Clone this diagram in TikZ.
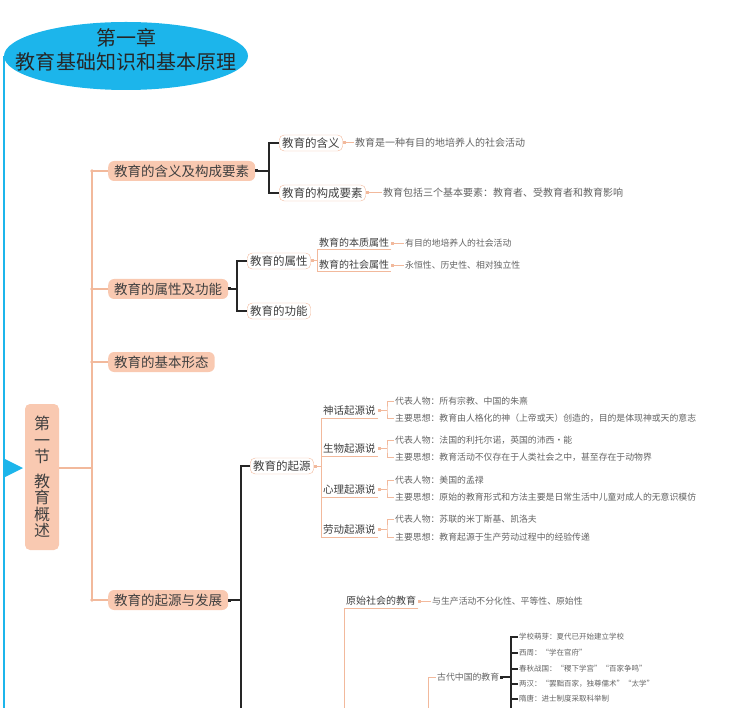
\documentclass[tikz,border=0pt]{standalone}
\usepackage{fontspec}
\setmainfont{Noto Sans CJK SC}
\usepackage{xcolor}
\usepackage{tikz}
\usetikzlibrary{shapes.geometric,arrows.meta}
\definecolor{skyblue}{HTML}{1CB5EB}
\definecolor{peach}{HTML}{F9C9B1}
\definecolor{peachline}{HTML}{F2B99C}
\definecolor{inkgray}{HTML}{404040}
\definecolor{leafgray}{HTML}{636363}

\begin{document}
\begin{tikzpicture}[
  x=1pt, y=-1pt,
  titleell/.style={ellipse, fill=skyblue, minimum width=244pt, minimum height=68pt, inner sep=0pt},
  titletxt/.style={align=center, text=black!85, font=\fontsize{20}{24}\selectfont},
  sectbox/.style={rectangle, fill=peach, rounded corners=5pt, minimum width=34pt, minimum height=146pt, inner sep=0pt, align=center, text=inkgray, font=\fontsize{16}{16.5}\selectfont},
  topic/.style={rectangle, fill=peach, rounded corners=6pt, minimum height=20pt, inner xsep=6pt, inner ysep=0pt, anchor=west, text=inkgray, font=\fontsize{13.5}{14}\selectfont},
  sub/.style={rectangle, draw=peachline, fill=white, rounded corners=5pt, minimum height=16pt, inner xsep=3pt, inner ysep=0pt, anchor=west, text=inkgray, font=\fontsize{11.5}{12}\selectfont},
  uline/.style={inner xsep=2pt, inner ysep=2pt, anchor=south west, text=inkgray, font=\fontsize{10}{10}\selectfont},
  leaf/.style={inner sep=1pt, anchor=west, text=leafgray, font=\fontsize{8.85}{9}\selectfont},
  bigleaf/.style={leaf, font=\fontsize{10}{10}\selectfont},
  tinyleaf/.style={leaf, font=\fontsize{7.5}{7.5}\selectfont},
  blueline/.style={draw=skyblue, line width=2.5pt},
  trunkline/.style={draw=peachline, line width=1.6pt},
  pline/.style={draw=peachline, line width=1pt},
  bline/.style={draw=black!85, line width=1.1pt},
  sqstart/.style={{Square[length=3pt,width=3pt]}-}
]
  \useasboundingbox (0,0) rectangle (738,708);
  \coordinate (bot) at (0,708);
  \coordinate (trunk) at (92,0);

  % Title
  \node[titleell] (title) at (126,56) {};
  \node[titletxt] (titletext) at (126,50) {第一章\\教育基础知识和基本原理};
  \draw[blueline] (title.west) -- (title.west |- bot);

  % Section
  \node[sectbox] (sect) at (42,477) {第\\一\\节\\[8pt]教\\育\\概\\述};
  \coordinate (sectjoin) at (sect.east |- 0,468);
  \fill[skyblue] (5,459) -- (23,468) -- (5,477) -- cycle;

  % Topics
  \node[topic] (meaning) at (108,171) {教育的含义及构成要素};
  \node[topic] (attr) at (108,289) {教育的属性及功能};
  \node[topic] (form) at (108,362) {教育的基本形态};
  \node[topic] (origdev) at (108,600) {教育的起源与发展};

  \draw[trunkline] (sectjoin) -- (sectjoin -| trunk);
  \draw[trunkline] (meaning.west) -| (trunk |- origdev.west) -- (origdev.west);
  \draw[trunkline] (attr.west) -- (attr.west -| trunk);
  \draw[trunkline] (form.west) -- (form.west -| trunk);
  \foreach \t in {meaning,attr,form,origdev}
    \fill[peachline] (trunk |- \t.west) circle (1.8pt);

  % Meaning and elements
  \node[sub] (def) at (279,143) {教育的含义};
  \node[sub] (elem) at (279,193) {教育的构成要素};
  \draw[bline, sqstart] (meaning.east) -- (meaning.east -| 269,0) coordinate (mfork);
  \draw[bline] (def.west) -| (mfork) |- (elem.west);
  \node[bigleaf] (defleaf) at (354,143) {教育是一种有目的地培养人的社会活动};
  \node[bigleaf] (elemleaf) at (382,193) {教育包括三个基本要素：教育者、受教育者和教育影响};
  \draw[pline, sqstart] (def.east) -- (defleaf.west);
  \draw[pline, sqstart] (elem.east) -- (elemleaf.west);

  % Attributes and functions
  \node[sub] (prop) at (247,261) {教育的属性};
  \node[sub] (func) at (247,311) {教育的功能};
  \draw[bline, sqstart] (attr.east) -- (attr.east -| 237,0) coordinate (afork);
  \draw[bline] (prop.west) -| (afork) |- (func.west);
  \node[uline] (essence) at (317,250) {教育的本质属性};
  \node[uline] (social) at (317,272) {教育的社会属性};
  \draw[pline, sqstart] (prop.east) -- (prop.east -| essence.south west);
  \draw[pline] (essence.south east) -- (essence.south west) -- (social.south west) -- (social.south east);
  \node[leaf] (essleaf) at (essence.east -| 404,0) {有目的地培养人的社会活动};
  \node[leaf] (socleaf) at (social.east -| 404,0) {永恒性、历史性、相对独立性};
  \draw[pline, sqstart] (essence.east) -- (essleaf.west);
  \draw[pline, sqstart] (social.east) -- (socleaf.west);

  % Origin of education
  \node[sub] (origin) at (250,466) {教育的起源};
  \draw[bline, sqstart] (origdev.east) -- (origdev.east -| 241,0) coordinate (ofork);
  \draw[bline] (origin.west) -| (ofork) -- (ofork |- bot);
  \node[uline, font=\fontsize{10.5}{10.5}\selectfont] (myth) at (321,418) {神话起源说};
  \node[uline, font=\fontsize{10.5}{10.5}\selectfont] (bio) at (321,456) {生物起源说};
  \node[uline, font=\fontsize{10.5}{10.5}\selectfont] (psy) at (321,497) {心理起源说};
  \node[uline, font=\fontsize{10.5}{10.5}\selectfont] (labor) at (321,537) {劳动起源说};
  \draw[pline, sqstart] (origin.east) -- (origin.east -| myth.south west);
  \draw[pline] (myth.south east) -- (myth.south west) -- (labor.south west) -- (labor.south east);
  \draw[pline] (bio.south west) -- (bio.south east);
  \draw[pline] (psy.south west) -- (psy.south east);

  \node[leaf] (mythwho) at (394,401) {代表人物：所有宗教、中国的朱熹};
  \node[leaf] (mythidea) at (394,418) {主要思想：教育由人格化的神（上帝或天）创造的，目的是体现神或天的意志};
  \node[leaf] (biowho) at (394,440) {代表人物：法国的利托尔诺，英国的沛西·能};
  \node[leaf] (bioidea) at (394,457) {主要思想：教育活动不仅存在于人类社会之中，甚至存在于动物界};
  \node[leaf] (psywho) at (394,480) {代表人物：美国的孟禄};
  \node[leaf] (psyidea) at (394,497) {主要思想：原始的教育形式和方法主要是日常生活中儿童对成人的无意识模仿};
  \node[leaf] (laborwho) at (394,519) {代表人物：苏联的米丁斯基、凯洛夫};
  \node[leaf] (laboridea) at (394,537) {主要思想：教育起源于生产劳动过程中的经验传递};

  \draw[pline, sqstart] (myth.east) -- (myth.east -| 387,0) coordinate (mythfork);
  \draw[pline] (mythwho.west) -| (mythfork) |- (mythidea.west);
  \draw[pline, sqstart] (bio.east) -- (bio.east -| 387,0) coordinate (biofork);
  \draw[pline] (biowho.west) -| (biofork) |- (bioidea.west);
  \draw[pline, sqstart] (psy.east) -- (psy.east -| 387,0) coordinate (psyfork);
  \draw[pline] (psywho.west) -| (psyfork) |- (psyidea.west);
  \draw[pline, sqstart] (labor.east) -- (labor.east -| 387,0) coordinate (laborfork);
  \draw[pline] (laborwho.west) -| (laborfork) |- (laboridea.west);

  % Development of education
  \node[uline] (primitive) at (344,608) {原始社会的教育};
  \draw[pline] (primitive.south east) -- (primitive.south west) -- (primitive.south west |- bot);
  \node[leaf] (primleaf) at (primitive.east -| 431,0) {与生产活动不分化性、平等性、原始性};
  \draw[pline, sqstart] (primitive.east) -- (primleaf.west);

  \node[leaf] (ancient) at (436,677) {古代中国的教育};
  \coordinate (ancfork) at (428,677);
  \draw[pline] (ancient.west) -- (ancfork) -- (ancfork |- bot);
  \node[tinyleaf] (xia) at (518,637) {学校萌芽：夏代已开始建立学校};
  \node[tinyleaf] (zhou) at (518,653) {西周：“学在官府”};
  \node[tinyleaf] (warring) at (518,669) {春秋战国：“稷下学宫”“百家争鸣”};
  \node[tinyleaf] (han) at (518,684) {两汉：“罢黜百家，独尊儒术”“太学”};
  \node[tinyleaf] (suitang) at (518,699) {隋唐：进士制度采取科举制};
  \draw[bline, sqstart] (ancient.east) -- (ancient.east -| 511,0) coordinate (cfork);
  \draw[bline] (xia.west) -| (cfork |- bot);
  \draw[bline] (zhou.west) -- (zhou.west -| cfork);
  \draw[bline] (warring.west) -- (warring.west -| cfork);
  \draw[bline] (han.west) -- (han.west -| cfork);
  \draw[bline] (suitang.west) -- (suitang.west -| cfork);
\end{tikzpicture}
\end{document}
